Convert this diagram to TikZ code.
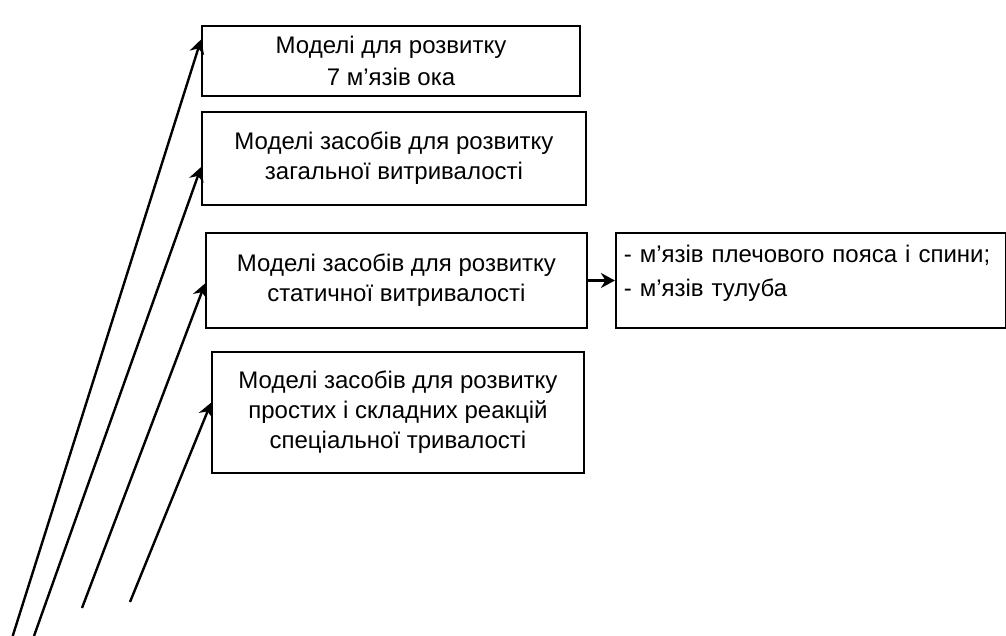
\documentclass[tikz,border=0pt]{standalone}
\usepackage{fontspec}
\setmainfont{Liberation Sans}
\usetikzlibrary{arrows.meta,positioning,calc}

\begin{document}
\begin{tikzpicture}[x=0.5pt,y=-0.5pt,>={Stealth[length=7pt,width=7.5pt]},
	box/.style={draw,line width=0.9pt,align=center,inner sep=0pt,font=\fontsize{12}{15}\selectfont}]
	   \useasboundingbox (0,0) rectangle (1006,636);
	   \node[box,minimum width=189pt,minimum height=35pt] (m_1) at (391,61) {Моделі для розвитку\\[1pt]7 м’язів ока};
	   \node[box,minimum width=192pt,minimum height=46.5pt] (m_2) at (394,158.5) {Моделі засобів для розвитку\\загальної витривалості};
	   \node[box,minimum width=190.5pt,minimum height=47.5pt] (m_3) at (396.5,280.5) {Моделі засобів для розвитку\\статичної витривалості};
	   \node[box,minimum width=186pt,minimum height=60.5pt] (m_4) at (398,412.5) {Моделі засобів для розвитку\\простих і складних реакцій\\спеціальної тривалості};
	   \node[box,minimum width=195pt,minimum height=47.5pt,align=left,text width=187pt,text depth=27pt,inner xsep=4pt] [right=13.5pt of m_3] (d) {- м’язів плечового пояса і спини;\\[2pt]- м’язів тулуба};
	   \coordinate (s_1) at (12.7,636);
	   \coordinate (s_2) at (34,636);
	   \coordinate (s_3) at (82,608);
	   \coordinate (s_4) at (130,602);
	   \path[->,line width=1.2pt]
			(s_1) edge ($(m_1.north west)!.2!(m_1.south west)$)
			(s_2) edge ($(m_2.north west)!.59!(m_2.south west)$)
			(s_3) edge ($(m_3.north west)!.53!(m_3.south west)$)
			(s_4) edge ($(m_4.north west)!.42!(m_4.south west)$)
			(m_3) edge (d);
\end{tikzpicture}
\end{document}
